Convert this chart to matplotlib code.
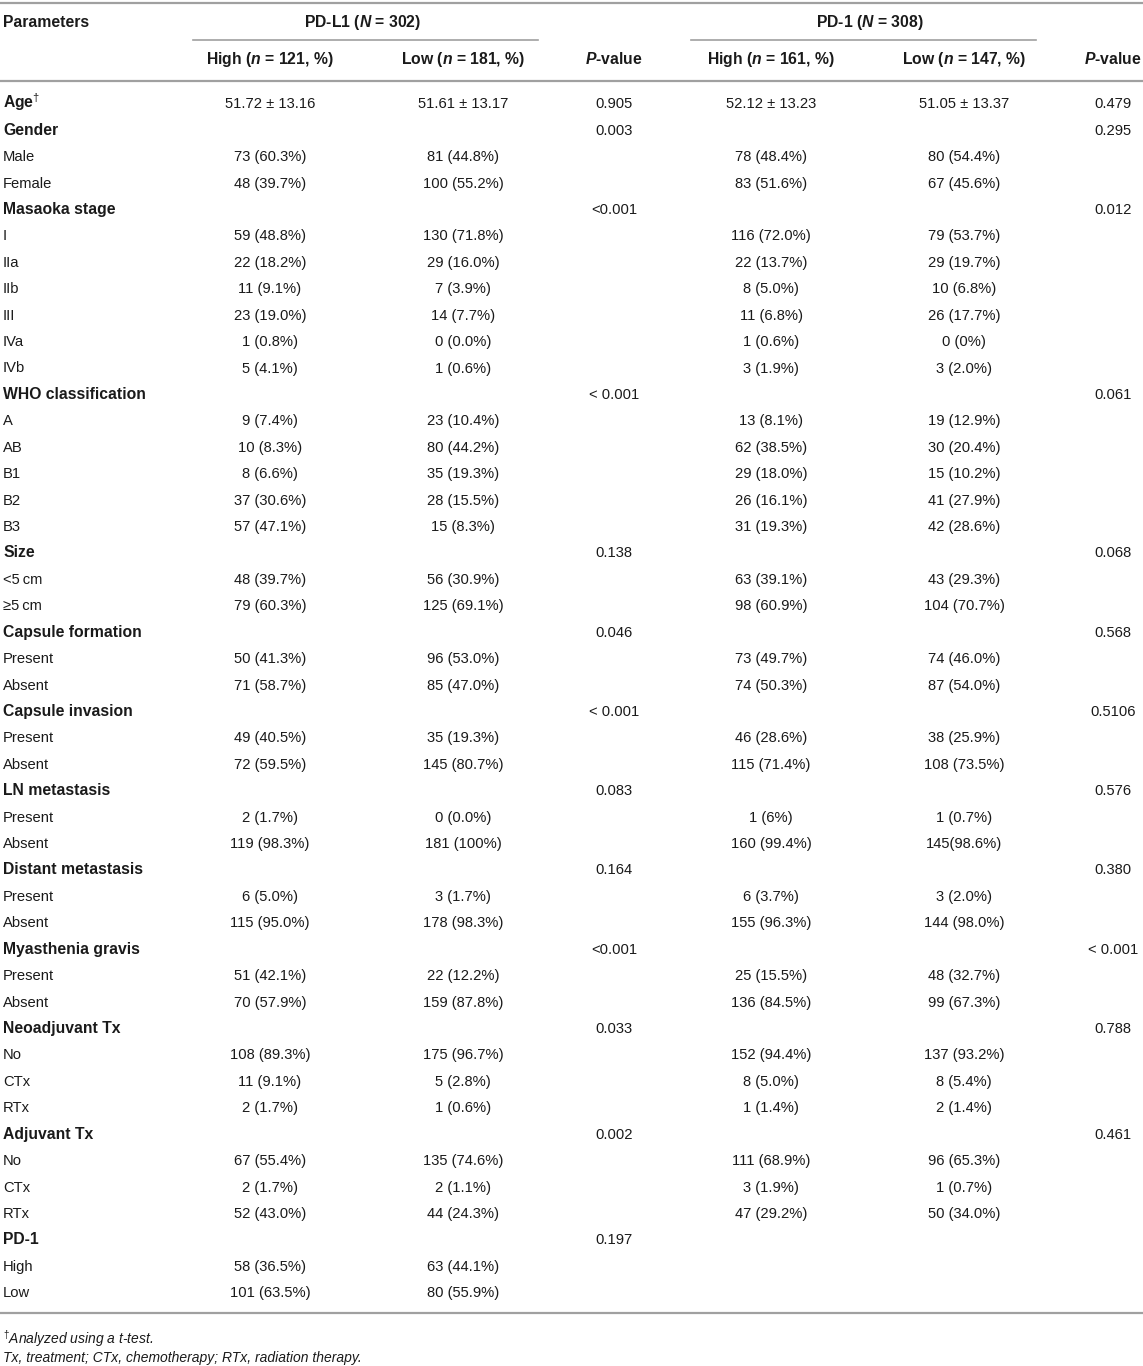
import matplotlib
matplotlib.use("Agg")
import matplotlib.pyplot as plt

plt.rcParams['font.family'] = ['Liberation Sans', 'DejaVu Sans']
plt.rcParams['mathtext.fontset'] = 'custom'
plt.rcParams['mathtext.rm'] = 'Liberation Sans'
plt.rcParams['mathtext.it'] = 'Liberation Sans:italic'
plt.rcParams['mathtext.bf'] = 'Liberation Sans:bold'
plt.rcParams['mathtext.bfit'] = 'Liberation Sans:bold:italic'

# ---------------- data ----------------
params = ["Age", "Gender", "Male", "Female", "Masaoka stage", "I", "IIa", "IIb", "III", "IVa", "IVb",
          "WHO classification", "A", "AB", "B1", "B2", "B3", "Size", "<5\u2009cm", "\u22655\u2009cm",
          "Capsule formation", "Present", "Absent", "Capsule invasion", "Present", "Absent",
          "LN metastasis", "Present", "Absent", "Distant metastasis", "Present", "Absent",
          "Myasthenia gravis", "Present", "Absent", "Neoadjuvant Tx", "No", "CTx", "RTx",
          "Adjuvant Tx", "No", "CTx", "RTx", "PD-1", "High", "Low"]
is_category = [True, True, False, False, True, False, False, False, False, False, False,
               True, False, False, False, False, False, True, False, False,
               True, False, False, True, False, False,
               True, False, False, True, False, False,
               True, False, False, True, False, False, False,
               True, False, False, False, True, False, False]

pdl1_high = ["51.72 \u00b1 13.16", "", "73 (60.3%)", "48 (39.7%)", "", "59 (48.8%)", "22 (18.2%)",
             "11 (9.1%)", "23 (19.0%)", "1 (0.8%)", "5 (4.1%)", "", "9 (7.4%)", "10 (8.3%)",
             "8 (6.6%)", "37 (30.6%)", "57 (47.1%)", "", "48 (39.7%)", "79 (60.3%)", "",
             "50 (41.3%)", "71 (58.7%)", "", "49 (40.5%)", "72 (59.5%)", "", "2 (1.7%)",
             "119 (98.3%)", "", "6 (5.0%)", "115 (95.0%)", "", "51 (42.1%)", "70 (57.9%)", "",
             "108 (89.3%)", "11 (9.1%)", "2 (1.7%)", "", "67 (55.4%)", "2 (1.7%)", "52 (43.0%)",
             "", "58 (36.5%)", "101 (63.5%)"]
pdl1_low = ["51.61 \u00b1 13.17", "", "81 (44.8%)", "100 (55.2%)", "", "130 (71.8%)", "29 (16.0%)",
            "7 (3.9%)", "14 (7.7%)", "0 (0.0%)", "1 (0.6%)", "", "23 (10.4%)", "80 (44.2%)",
            "35 (19.3%)", "28 (15.5%)", "15 (8.3%)", "", "56 (30.9%)", "125 (69.1%)", "",
            "96 (53.0%)", "85 (47.0%)", "", "35 (19.3%)", "145 (80.7%)", "", "0 (0.0%)",
            "181 (100%)", "", "3 (1.7%)", "178 (98.3%)", "", "22 (12.2%)", "159 (87.8%)", "",
            "175 (96.7%)", "5 (2.8%)", "1 (0.6%)", "", "135 (74.6%)", "2 (1.1%)", "44 (24.3%)",
            "", "63 (44.1%)", "80 (55.9%)"]
pdl1_p = ["0.905", "0.003", "", "", "<0.001", "", "", "", "", "", "",
          "< 0.001", "", "", "", "", "", "0.138", "", "",
          "0.046", "", "", "< 0.001", "", "",
          "0.083", "", "", "0.164", "", "",
          "<0.001", "", "", "0.033", "", "", "",
          "0.002", "", "", "", "0.197", "", ""]
pd1_high = ["52.12 \u00b1 13.23", "", "78 (48.4%)", "83 (51.6%)", "", "116 (72.0%)", "22 (13.7%)",
            "8 (5.0%)", "11 (6.8%)", "1 (0.6%)", "3 (1.9%)", "", "13 (8.1%)", "62 (38.5%)",
            "29 (18.0%)", "26 (16.1%)", "31 (19.3%)", "", "63 (39.1%)", "98 (60.9%)", "",
            "73 (49.7%)", "74 (50.3%)", "", "46 (28.6%)", "115 (71.4%)", "", "1 (6%)",
            "160 (99.4%)", "", "6 (3.7%)", "155 (96.3%)", "", "25 (15.5%)", "136 (84.5%)", "",
            "152 (94.4%)", "8 (5.0%)", "1 (1.4%)", "", "111 (68.9%)", "3 (1.9%)", "47 (29.2%)",
            "", "", ""]
pd1_low = ["51.05 \u00b1 13.37", "", "80 (54.4%)", "67 (45.6%)", "", "79 (53.7%)", "29 (19.7%)",
           "10 (6.8%)", "26 (17.7%)", "0 (0%)", "3 (2.0%)", "", "19 (12.9%)", "30 (20.4%)",
           "15 (10.2%)", "41 (27.9%)", "42 (28.6%)", "", "43 (29.3%)", "104 (70.7%)", "",
           "74 (46.0%)", "87 (54.0%)", "", "38 (25.9%)", "108 (73.5%)", "", "1 (0.7%)",
           "145(98.6%)", "", "3 (2.0%)", "144 (98.0%)", "", "48 (32.7%)", "99 (67.3%)", "",
           "137 (93.2%)", "8 (5.4%)", "2 (1.4%)", "", "96 (65.3%)", "1 (0.7%)", "50 (34.0%)",
           "", "", ""]
pd1_p = ["0.479", "0.295", "", "", "0.012", "", "", "", "", "", "",
         "0.061", "", "", "", "", "", "0.068", "", "",
         "0.568", "", "", "0.5106", "", "",
         "0.576", "", "", "0.380", "", "",
         "< 0.001", "", "", "0.788", "", "", "",
         "0.461", "", "", "", "", "", ""]

group_headers = [r"PD-L1 ($\mathbfit{N}$ = 302)", r"PD-1 ($\mathbfit{N}$ = 308)"]
sub_headers = [r"High ($\mathbfit{n}$ = 121, %)", r"Low ($\mathbfit{n}$ = 181, %)", r"$\mathbfit{P}$-value",
               r"High ($\mathbfit{n}$ = 161, %)", r"Low ($\mathbfit{n}$ = 147, %)", r"$\mathbfit{P}$-value"]
footnotes = [r"$^{\dagger}$Analyzed using a t-test.",
             "Tx, treatment; CTx, chemotherapy; RTx, radiation therapy."]

# ---------------- layout ----------------
W, H = 1143, 1366
fig = plt.figure(figsize=(W / 100, H / 100), dpi=100)
ax = fig.add_axes([0, 0, 1, 1])
ax.set_xlim(0, W)
ax.set_ylim(H, 0)
ax.axis('off')

txt = '#1a1a1a'
line_c = '#a0a0a0'
fs = 10.6
fsb = 11.3
bl = 5.3  # baseline offset below row centre

col_x = [270, 463, 614, 771, 964, 1113]
y0, dy = 103, 26.42

# lines
ax.plot([0, W], [3, 3], color=line_c, lw=1.6)
ax.plot([193, 538], [40, 40], color=line_c, lw=1.2)
ax.plot([691, 1036], [40, 40], color=line_c, lw=1.2)
ax.plot([0, W], [81, 81], color=line_c, lw=1.6)
ax.plot([0, W], [1313, 1313], color=line_c, lw=1.6)

# headers
ax.text(3, 22 + bl, "Parameters", fontsize=fsb, fontweight='bold', color=txt, va='baseline', ha='left')
ax.text(363, 22 + bl, group_headers[0], fontsize=fsb, fontweight='bold', color=txt, va='baseline', ha='center')
ax.text(870, 22 + bl, group_headers[1], fontsize=fsb, fontweight='bold', color=txt, va='baseline', ha='center')
for x, s in zip(col_x, sub_headers):
    ax.text(x, 59 + bl, s, fontsize=fsb, fontweight='bold', color=txt, va='baseline', ha='center')

# body
columns = [pdl1_high, pdl1_low, pdl1_p, pd1_high, pd1_low, pd1_p]
for i, name in enumerate(params):
    y = y0 + i * dy + bl
    label = name
    if name == "Age":
        label = r"Age$^{\dagger}$"
    bold = is_category[i]
    ax.text(3, y, label, fontsize=fsb if bold else fs, color=txt, va='baseline', ha='left',
            fontweight='bold' if bold else 'normal')
    for x, col in zip(col_x, columns):
        if col[i]:
            ax.text(x, y, col[i], fontsize=fs, color=txt, va='baseline', ha='center')

# footnotes
ax.text(3, 1344, footnotes[0], fontsize=10.0, style='italic', color=txt, va='baseline', ha='left')
ax.text(3, 1362, footnotes[1], fontsize=10.0, style='italic', color=txt, va='baseline', ha='left')

fig.savefig("out.png", dpi=100)
